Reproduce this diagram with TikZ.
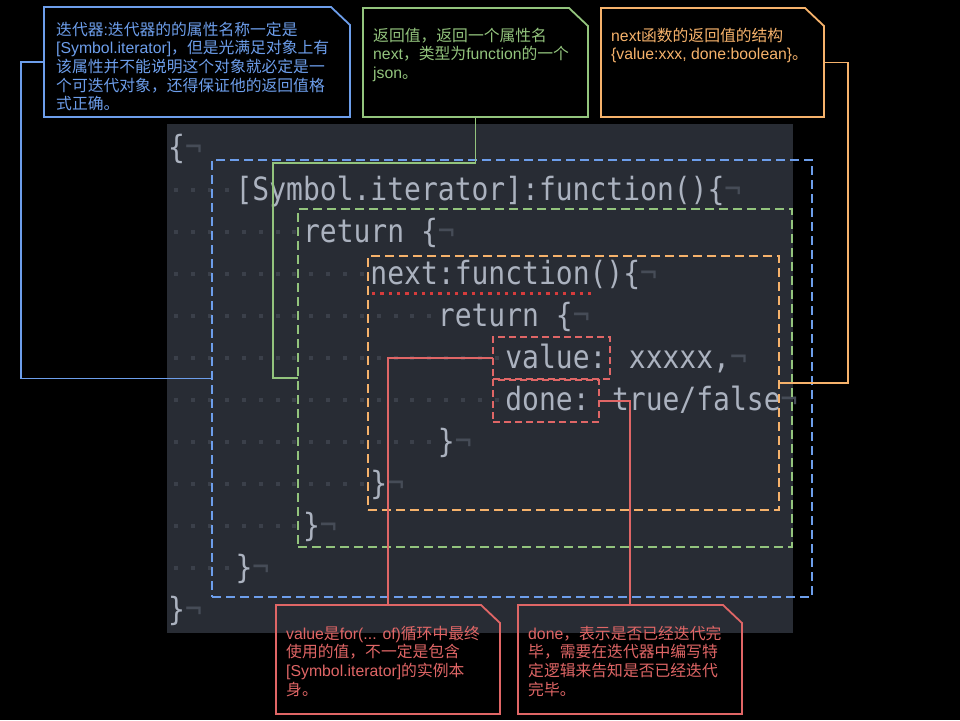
\documentclass[tikz,border=0pt]{standalone}
\usepackage{fontspec}
\newfontfamily\codefont{DejaVu Sans Mono}[FakeStretch=0.875]
\newfontfamily\cjk{Noto Sans CJK SC}
\newfontfamily\latf{Liberation Sans}
\usetikzlibrary{calc}
\definecolor{panelC}{HTML}{282C34}
\definecolor{codeC}{HTML}{ABB2BF}
\definecolor{dotC}{HTML}{3B404A}
\definecolor{eolC}{HTML}{464C57}
\definecolor{blueC}{HTML}{6D9EEB}
\definecolor{greenC}{HTML}{93C47D}
\definecolor{orangeC}{HTML}{F6B26B}
\definecolor{redC}{HTML}{E06666}
\definecolor{dotRedC}{HTML}{D63C3C}
\newcommand{\notelines}[1]{\vtop{\baselineskip=18.7pt\lineskiplimit=-30pt\lineskip=0pt\halign{##\hfil\cr#1\crcr}}}
\newcommand{\lt}[1]{{\latf #1}}
\newcommand{\eolmark}{{\color{eolC}¬}}
\def\cw{16.856}
\begin{document}
\begin{tikzpicture}[x=1pt,y=-1pt,
  codeln/.style={anchor=base west, inner sep=0pt, text=codeC, font=\codefont\fontsize{32pt}{32pt}\selectfont},
  dbox/.style={draw, line width=1.8pt, inner sep=0pt, outer sep=0pt, anchor=north west, dash pattern=on 9pt off 5pt},
  rbox/.style={dbox, draw=redC, dash pattern=on 7pt off 4pt},
  notebox/.style={inner sep=0pt, outer sep=0pt, anchor=north west},
  notetext/.style={anchor=base west, inner sep=0pt, font=\cjk\fontsize{15.8pt}{18.7pt}\selectfont},
  conn/.style={line width=1.6pt},
  noteline/.style={line width=1.8pt, line join=miter}
]
\fill[black] (0,0) rectangle (960,720);
\useasboundingbox (0,0) rectangle (960,720);
\fill[panelC] (167,124) rectangle (793,633);
% whitespace dots
\foreach \i/\n in {1/4,2/8,3/12,4/16,5/20,6/20,7/16,8/12,9/8,10/4}{
  \foreach \k in {1,...,\n}{
    \fill[dotC] ({168+(\k-0.5)*\cw-2},{148+42*\i-2}) rectangle ++(4,4);
  }
}
% code lines
\node[codeln] (L0)  at ({168+0*\cw},{158.5+42*0})  {\{\eolmark};
\node[codeln] (L1)  at ({168+4*\cw},{158.5+42*1})  {[Symbol.iterator]:function()\{\eolmark};
\node[codeln] (L2)  at ({168+8*\cw},{158.5+42*2})  {return \{\eolmark};
\node[codeln] (L3)  at ({168+12*\cw},{158.5+42*3}) {next:function()\{\eolmark};
\node[codeln] (L4)  at ({168+16*\cw},{158.5+42*4}) {return \{\eolmark};
\node[codeln] (L5)  at ({168+20*\cw},{158.5+42*5}) {value: xxxxx,\eolmark};
\node[codeln] (L6)  at ({168+20*\cw},{158.5+42*6}) {done: true/false\eolmark};
\node[codeln] (L7)  at ({168+16*\cw},{158.5+42*7}) {\}\eolmark};
\node[codeln] (L8)  at ({168+12*\cw},{158.5+42*8}) {\}\eolmark};
\node[codeln] (L9)  at ({168+8*\cw},{158.5+42*9})  {\}\eolmark};
\node[codeln] (L10) at ({168+4*\cw},{158.5+42*10}) {\}\eolmark};
\node[codeln] (L11) at ({168+0*\cw},{158.5+42*11}) {\}\eolmark};
% dashed boxes
\node[dbox, draw=blueC, minimum width=600pt, minimum height=437pt] (blueBox) at (212,160) {};
\node[dbox, draw=greenC, minimum width=494pt, minimum height=338pt] (greenBox) at (298,209) {};
\node[dbox, draw=orangeC, minimum width=411pt, minimum height=254pt] (orangeBox) at (368,256) {};
\node[rbox, minimum width=117pt, minimum height=42pt] (valBox) at (493,337) {};
\node[rbox, minimum width=106pt, minimum height=42pt] (doneBox) at (493,380) {};
\draw[dotRedC, line width=3.3pt, dash pattern=on 3.3pt off 5pt] (372,293.5) -- (592,293.5);
% note frames
\node[notebox, minimum width=306pt, minimum height=110pt] (blueNote) at (44,7) {};
\node[notebox, minimum width=225pt, minimum height=109pt] (greenNote) at (363,8) {};
\node[notebox, minimum width=223pt, minimum height=109pt] (orangeNote) at (601,8) {};
\node[notebox, minimum width=224pt, minimum height=109pt] (valNote) at (276,605) {};
\node[notebox, minimum width=224pt, minimum height=109pt] (doneNote) at (518,605) {};
\foreach \nn/\cc in {blueNote/blueC, greenNote/greenC, orangeNote/orangeC, valNote/redC, doneNote/redC}{
  \draw[noteline, \cc] (\nn.south west) -- (\nn.north west) -- ([xshift=-19pt]\nn.north east) -- ([yshift=-18pt]\nn.north east) -- (\nn.south east) -- cycle;
}
% connectors
\coordinate (bK) at (21,62);
\coordinate (gK) at (273,163);
\coordinate (oK) at (848,62.5);
\draw[conn, blueC] (blueNote.west) -- (bK) |- (blueBox.west);
\draw[conn, greenC] (greenNote.south) |- (gK) |- (greenBox.west);
\draw[conn, orangeC] (orangeNote.east) -- (oK) |- (orangeBox.east);
\draw[conn, redC] (valNote.north) |- (valBox.west);
\draw[conn, redC] (doneNote.north) |- (doneBox.east);
% note texts
\node[notetext, text=blueC] (blueText) at ([xshift=12pt,yshift=-28pt]blueNote.north west)
  {\notelines{迭代器\lt{:}迭代器的的属性名称一定是\cr \lt{[Symbol.iterator]}，但是光满足对象上有\cr 该属性并不能说明这个对象就必定是一\cr 个可迭代对象，还得保证他的返回值格\cr 式正确。}};
\node[notetext, text=greenC] (greenText) at ([xshift=10pt,yshift=-33pt]greenNote.north west)
  {\notelines{返回值，返回一个属性名\cr \lt{next}，类型为\lt{function}的一个\cr \lt{json}。}};
\node[notetext, text=orangeC] (orangeText) at ([xshift=10pt,yshift=-33pt]orangeNote.north west)
  {\notelines{\lt{next}函数的返回值的结构\cr \lt{\{value:xxx, done:boolean\}}。}};
\node[notetext, text=redC] (valText) at ([xshift=10pt,yshift=-34pt]valNote.north west)
  {\notelines{\lt{value}是\lt{for(... of)}循环中最终\cr 使用的值，不一定是包含\cr \lt{[Symbol.iterator]}的实例本\cr 身。}};
\node[notetext, text=redC] (doneText) at ([xshift=10pt,yshift=-34pt]doneNote.north west)
  {\notelines{\lt{done}，表示是否已经迭代完\cr 毕，需要在迭代器中编写特\cr 定逻辑来告知是否已经迭代\cr 完毕。}};
\end{tikzpicture}
\end{document}
